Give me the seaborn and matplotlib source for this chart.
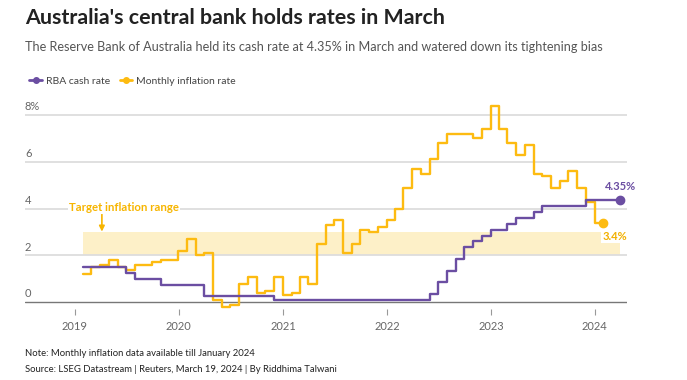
import pandas as pd
import matplotlib.pyplot as plt
import matplotlib.transforms as mtransforms
from matplotlib.lines import Line2D
import seaborn as sns

sns.set_theme(style="white")
plt.rcParams['font.family'] = ['Lato', 'DejaVu Sans']

# Data (month-end values)
cash_dates = pd.date_range("2019-01-31", "2024-03-31", freq="ME")
cash_rate = [1.5, 1.5, 1.5, 1.5, 1.5, 1.25, 1.0, 1.0, 1.0, 0.75, 0.75, 0.75,
             0.75, 0.75, 0.25, 0.25, 0.25, 0.25, 0.25, 0.25, 0.25, 0.25, 0.1, 0.1,
             0.1, 0.1, 0.1, 0.1, 0.1, 0.1, 0.1, 0.1, 0.1, 0.1, 0.1, 0.1,
             0.1, 0.1, 0.1, 0.1, 0.35, 0.85, 1.35, 1.85, 2.35, 2.6, 2.85, 3.1,
             3.1, 3.35, 3.6, 3.6, 3.85, 4.1, 4.1, 4.1, 4.1, 4.1, 4.35, 4.35,
             4.35, 4.35, 4.35]

cpi_dates = pd.date_range("2019-01-31", "2024-01-31", freq="ME")
cpi_rate = [1.2, 1.5, 1.6, 1.8, 1.5, 1.4, 1.6, 1.6, 1.7, 1.8, 1.8, 2.2,
            2.7, 2.0, 2.1, 0.1, -0.2, -0.1, 0.8, 1.1, 0.4, 0.5, 1.1, 0.3,
            0.4, 1.1, 0.8, 2.5, 3.3, 3.5, 2.1, 2.5, 3.1, 3.0, 3.2, 3.5,
            4.0, 4.9, 5.7, 5.5, 6.1, 6.8, 7.2, 7.2, 7.2, 7.0, 7.4, 8.4,
            7.4, 6.8, 6.3, 6.7, 5.5, 5.4, 4.9, 5.2, 5.6, 4.9, 4.3, 3.4,
            3.4]

target_low, target_high = 2, 3
y_ticks = [0, 2, 4, 6, 8]
y_labels = ["0", "2", "4", "6", "8%"]
x_years = ["2019", "2020", "2021", "2022", "2023", "2024"]

purple = "#6b4ea2"
yellow = "#fdbb11"

fig = plt.figure(figsize=(6.87, 3.8), dpi=100)
ax = fig.add_axes([25 / 687, 1 - 308.6 / 380, 602 / 687, 212.3 / 380])

# target band
ax.fill_between([cpi_dates[0], cash_dates[-1]], target_low, target_high,
                color="#fdf0c8", lw=0, zorder=0)

# gridlines
for v in y_ticks[1:]:
    ax.axhline(v, color="#dddddd", lw=1.3, zorder=1)
ax.axhline(0, color="#777777", lw=1.0, zorder=1)

sns.lineplot(x=cpi_dates, y=cpi_rate, drawstyle="steps-post", color=yellow,
             lw=1.7, ax=ax, zorder=3)
sns.lineplot(x=cash_dates, y=cash_rate, drawstyle="steps-post", color=purple,
             lw=1.7, ax=ax, zorder=4)
ax.plot(cash_dates[-1], cash_rate[-1], "o", color=purple, ms=6, zorder=5)
ax.plot(cpi_dates[-1], cpi_rate[-1], "o", color=yellow, ms=6, zorder=5)

ax.set_ylim(-0.27, 8.8)
ax.set_xlim(pd.Timestamp("2018-07-10"), pd.Timestamp("2024-04-23"))
for s in ax.spines.values():
    s.set_visible(False)

ax.set_xticks(pd.to_datetime([y + "-01-01" for y in x_years]))
ax.set_xticklabels(x_years)
ax.tick_params(axis="x", length=4, width=0.8, color="#999999", labelcolor="#666666",
               labelsize=8, pad=5, bottom=True)
ax.set_yticks([])
ax.set_xlabel("")
ax.set_ylabel("")

trans = mtransforms.blended_transform_factory(ax.transAxes, ax.transData)
for v, lab in zip(y_ticks, y_labels):
    ax.text(0, v + 0.12, lab, transform=trans, ha="left", va="bottom",
            fontsize=8, color="#666666")

# labels
ax.annotate(f"{cash_rate[-1]:.2f}%", xy=(cash_dates[-1], cash_rate[-1]),
            xytext=(0, 6), textcoords="offset points", ha="center", va="bottom",
            fontsize=8, fontweight="bold", color=purple)
ax.annotate(f"{cpi_rate[-1]:.1f}%", xy=(cpi_dates[-1], cpi_rate[-1]),
            xytext=(8, -6), textcoords="offset points", ha="center", va="top",
            fontsize=8, fontweight="bold", color="#f2b000",
            bbox=dict(facecolor="white", edgecolor="none", pad=0.5))

ax.text(pd.Timestamp("2019-06-22"), 4.07, "Target inflation range", ha="center",
        va="center", fontsize=8.2, fontweight="bold", color="#f7b500",
        bbox=dict(facecolor="white", edgecolor="none", pad=1), zorder=6)
ax.annotate("", xy=(pd.Timestamp("2019-04-06"), 3.02),
            xytext=(pd.Timestamp("2019-04-06"), 3.75),
            arrowprops=dict(arrowstyle="-|>", color="#f7b500", lw=1.2,
                            mutation_scale=8, shrinkA=0, shrinkB=0))

# titles
fig.text(25 / 687, 1 - 18 / 380, "Australia's central bank holds rates in March",
         fontsize=15.4, fontweight="bold", color="#222222", va="center")
fig.text(25 / 687, 1 - 47 / 380,
         "The Reserve Bank of Australia held its cash rate at 4.35% in March and watered down its tightening bias",
         fontsize=9.05, color="#555555", va="center")

handles = [Line2D([0], [0], color=purple, lw=2, marker="o", ms=4),
           Line2D([0], [0], color=yellow, lw=2, marker="o", ms=4)]
fig.legend(handles, ["RBA cash rate", "Monthly inflation rate"], loc="center left",
           bbox_to_anchor=(20 / 687, 1 - 81 / 380), ncol=2, frameon=False,
           fontsize=7.5, labelcolor="#444444", handlelength=1.2,
           handletextpad=0.4, columnspacing=0.9)

fig.text(25 / 687, 1 - 354 / 380, "Note: Monthly inflation data available till January 2024",
         fontsize=6.8, color="#222222", va="center")
fig.text(25 / 687, 1 - 370 / 380,
         "Source: LSEG Datastream | Reuters, March 19, 2024 | By Riddhima Talwani",
         fontsize=6.8, color="#222222", va="center")

fig.savefig("out.png", dpi=100)
